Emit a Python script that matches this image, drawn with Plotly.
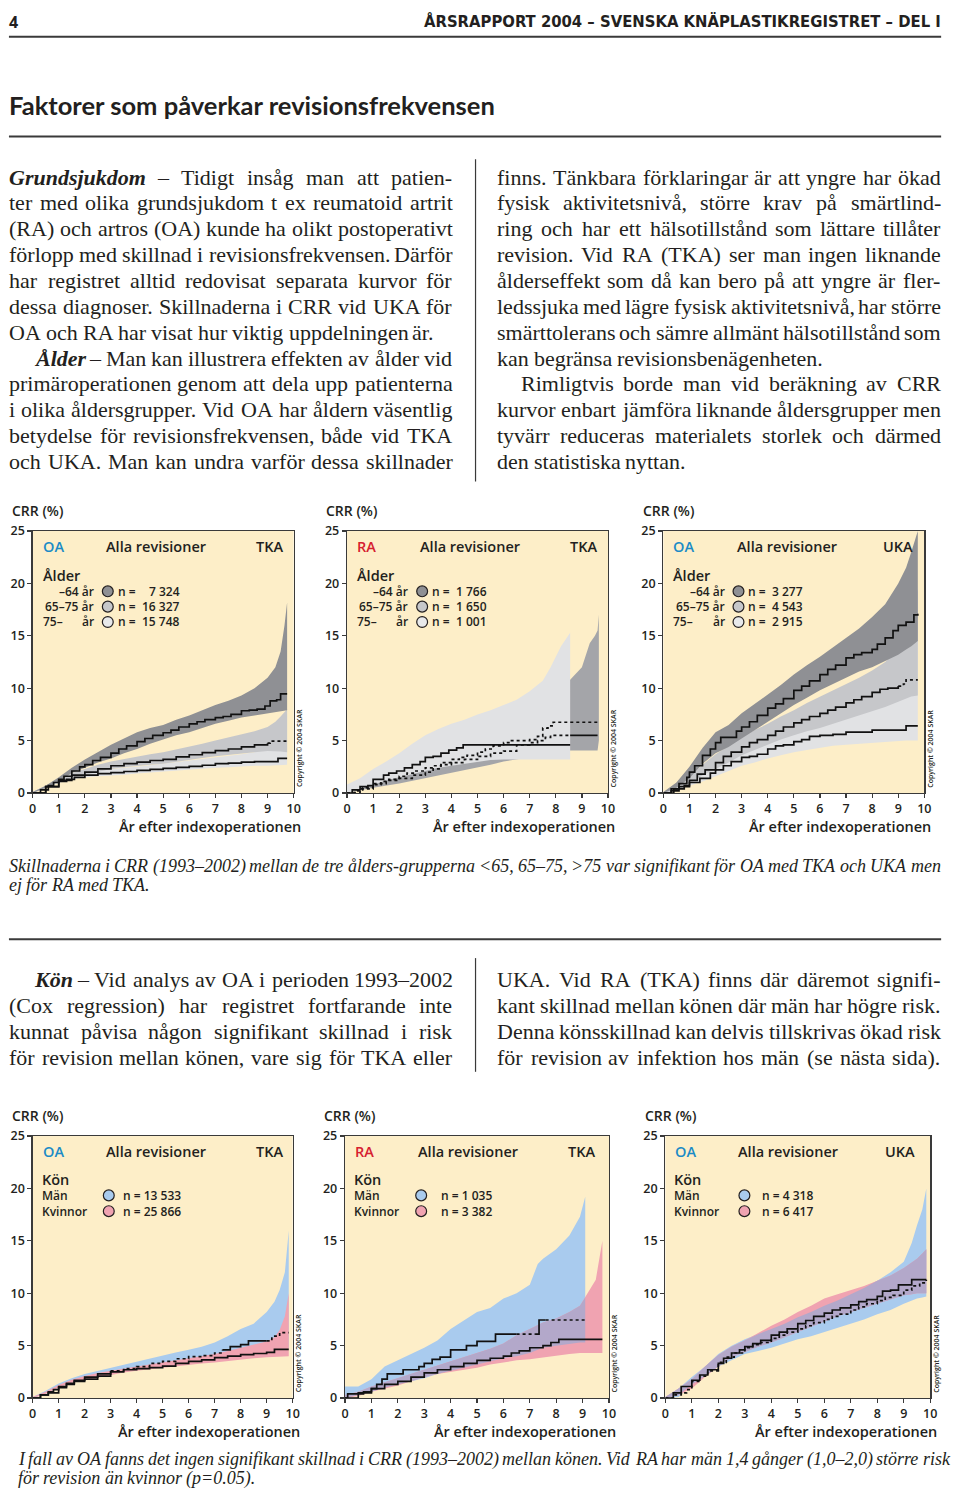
import plotly.graph_objects as go

W, H = 960, 1498
SANS = "Open Sans, Noto Sans, sans-serif"
SERIF = "Liberation Serif, Times New Roman, serif"
INK = "#231F20"
BEIGE = "#FDEEC8"
G_DARK, G_MID, G_LIGHT = "#8F9094", "#C6C7CA", "#E1E2E4"
BLUE, PINK, LAV = "#A9CBEE", "#F0A3B1", "#B3A8CA"
OA_COL, RA_COL = "#1B8BC6", "#D6202F"

# ---------------- data ----------------
# Chart 1: OA, TKA, by age
c1_a_t = [0,0.3,0.6,0.8,1.0,1.2,1.5,1.8,2.0,2.3,2.6,3.0,3.3,3.6,4.0,4.3,4.6,5.0,5.3,5.6,6.0,6.3,6.6,7.0,7.3,7.6,8.0,8.3,8.6,8.9,9.1,9.35,9.5,9.75]
c1_a_v = [0,0.3,0.7,1.0,1.3,1.6,2.1,2.5,2.7,3.1,3.4,3.8,4.2,4.5,4.9,5.2,5.5,5.75,6.0,6.3,6.6,6.8,7.0,7.2,7.3,7.5,7.85,7.9,8.0,8.3,8.8,8.9,9.45,9.45]
c1_a_f = ["s"] * len(c1_a_t)
c1_a_bt = [0,0.5,1,1.5,2,2.5,3,3.5,4,4.5,5,5.5,6,6.5,7,7.5,8,8.5,9,9.3,9.5,9.65,9.75]
c1_a_hi = [0.1,0.7,1.5,2.4,3.2,3.9,4.6,5.2,5.8,6.2,6.5,7.0,7.4,7.9,8.4,8.8,9.3,10.0,11.0,12.0,13.5,16.0,18.2]
c1_a_lo = [0,0.5,1.1,1.9,2.4,2.9,3.3,3.8,4.2,4.7,5.1,5.5,5.8,6.2,6.6,6.9,7.2,7.4,7.6,7.7,7.8,7.9,7.9]
c1_b_t = [0,0.5,1.0,1.5,2.0,2.5,3.0,3.5,4.0,4.5,5.0,5.5,6.0,6.5,7.0,7.5,8.0,8.5,9.0,9.1,9.75]
c1_b_v = [0,0.6,1.2,1.7,2.0,2.3,2.6,2.8,2.95,3.1,3.2,3.45,3.65,3.85,4.05,4.2,4.4,4.6,4.75,4.95,4.95]
c1_b_f = ["s"] * 18 + ["d", "d", "d"]
c1_b_bt = [0,0.5,1,1.5,2,2.5,3,3.5,4,4.5,5,5.5,6,6.5,7,7.5,8,8.5,9,9.3,9.5,9.75]
c1_b_hi = [0.1,0.7,1.3,1.9,2.3,2.7,3.0,3.25,3.45,3.7,3.9,4.15,4.4,4.7,5.0,5.3,5.6,5.9,6.3,6.8,7.3,8.0]
c1_b_lo = [0,0.5,1.05,1.45,1.75,2.05,2.3,2.45,2.6,2.7,2.8,3.0,3.2,3.35,3.5,3.65,3.8,3.9,4.0,4.0,3.95,3.9]
c1_c_t = [0,0.5,1.0,1.3,1.6,2.0,2.5,3.0,3.5,4.0,4.5,5.0,5.5,6.0,6.5,7.0,7.5,8.0,8.5,9.0,9.4,9.75]
c1_c_v = [0,0.6,1.1,1.3,1.5,1.7,1.85,1.95,2.05,2.15,2.25,2.35,2.45,2.55,2.65,2.8,2.85,2.95,3.0,3.0,3.3,3.3]
c1_c_f = ["s"] * len(c1_c_t)
c1_c_bt = [0,0.5,1,1.5,2,2.5,3,3.5,4,4.5,5,5.5,6,6.5,7,7.5,8,8.5,9,9.3,9.5,9.75]
c1_c_hi = [0.1,0.7,1.2,1.6,1.95,2.15,2.3,2.4,2.5,2.65,2.75,2.9,3.05,3.2,3.35,3.5,3.7,3.9,4.2,4.7,5.5,7.5]
c1_c_lo = [0,0.5,0.95,1.3,1.5,1.6,1.65,1.75,1.85,1.95,2.05,2.1,2.2,2.3,2.4,2.45,2.55,2.6,2.6,2.65,2.7,2.7]

# Chart 2: RA, TKA, by age
c2_a_bt = [0,1,2,3,4,5,5.5,6,7,8,8.55,9.0,9.3,9.5,9.6,9.65]
c2_a_hi = [0.5,2.0,3.5,5.0,6.2,7.2,7.7,8.2,9.2,10.2,10.8,12.0,14.3,15.0,15.5,17.0]
c2_a_lo = [0,0.5,0.9,1.4,1.9,2.4,2.7,3.0,3.4,3.9,4.05,4.05,4.05,4.05,4.05,5.0]
c2_a_t = [0,0.3,0.6,1.0,1.3,1.6,2.0,2.3,2.6,3.0,3.3,3.6,4.0,4.3,4.6,5.0,5.3,5.6,6.0,6.3,6.6,7.0,7.3,7.5,7.7,7.9,9.65]
c2_a_v = [0,0.2,0.5,0.8,1.1,1.3,1.6,1.9,2.1,2.4,2.6,2.9,3.2,3.4,3.6,3.9,4.2,4.5,4.8,5.0,5.0,5.1,5.4,6.2,6.4,6.75,6.75]
c2_a_f = ["d"] * len(c2_a_t)
c2_b_t = [0,0.5,1.0,1.5,2.0,2.5,3.0,3.3,3.6,4.0,4.5,5.0,5.5,6.0,6.5,7.0,7.3,7.6,7.8,8.55,9.6]
c2_b_v = [0,0.4,0.9,1.2,1.4,1.7,2.0,2.3,2.7,2.9,3.2,3.5,3.8,4.0,4.6,4.8,5.0,5.3,5.5,5.5,5.5]
c2_b_f = ["d"] * 19 + ["s", "s"]
c2_c_t = [0,0.2,0.5,0.8,1.0,1.2,1.4,1.6,1.9,2.2,2.5,2.8,3.0,3.3,3.6,3.9,4.2,4.45,8.55]
c2_c_v = [0,0.3,0.6,0.7,1.3,1.3,1.7,1.9,2.1,2.4,2.7,3.0,3.4,3.5,3.8,4.1,4.3,4.6,4.6]
c2_c_f = ["s"] * len(c2_c_t)
c2_c_bt = [0,0.5,1,1.5,2,2.5,3,3.5,4,4.5,5,5.5,6,6.5,7,7.5,7.8,8.2,8.55]
c2_c_hi = [0.8,1.4,2.3,3.0,3.8,4.7,5.5,6.1,6.6,7.0,7.5,7.9,8.4,8.9,9.7,10.7,12.0,14.0,15.3]
c2_c_lo = [0,0.4,0.8,1.2,1.5,1.8,2.1,2.4,2.6,2.8,3.0,3.15,3.2,3.2,3.2,3.2,3.2,3.2,3.2]

# Chart 3: OA, UKA, by age
c3_a_t = [0,0.3,0.6,0.9,1.0,1.2,1.5,1.8,2.0,2.2,2.5,2.8,3.0,3.3,3.6,4.0,4.3,4.6,5.0,5.3,5.6,6.0,6.3,6.6,7.0,7.3,7.6,8.0,8.2,8.5,8.8,9.0,9.3,9.6,9.75]
c3_a_v = [0,0.4,0.9,1.5,2.0,2.6,3.6,4.2,4.8,5.3,5.3,5.9,6.3,6.8,7.4,8.1,8.5,9.0,9.8,10.2,10.7,11.3,11.8,12.2,12.9,13.2,13.4,13.7,14.2,14.8,15.5,16.0,16.3,17.0,17.1]
c3_a_f = ["s"] * len(c3_a_t)
c3_bt = [0,0.5,1,1.5,2,2.5,3,3.5,4,4.5,5,5.5,6,6.5,7,7.5,8,8.5,9,9.3,9.5,9.75]
c3_a_hi = [0.1,1.0,2.5,4.3,5.8,6.5,7.6,8.5,9.4,10.3,11.3,12.2,13.0,13.9,14.8,15.7,16.8,18.0,20.0,21.5,23.0,25.0]
c3_a_lo = [0,0.5,1.4,2.8,3.8,4.4,5.2,6.0,6.8,7.6,8.4,9.1,9.8,10.4,11.0,11.6,12.0,12.6,13.2,13.7,14.0,14.5]
c3_b_t = [0,0.3,0.6,1.0,1.3,1.6,2.0,2.3,2.6,3.0,3.3,3.6,4.0,4.3,4.6,5.0,5.3,5.6,6.0,6.3,6.6,7.0,7.3,7.6,8.0,8.3,8.6,9.0,9.2,9.3,9.75]
c3_b_v = [0,0.2,0.6,1.2,1.8,2.2,2.9,3.5,3.9,4.4,4.8,5.1,5.5,5.9,6.3,6.7,7.0,7.3,7.6,7.9,8.2,8.6,8.9,9.2,9.6,9.9,10.0,10.2,10.4,10.8,10.8]
c3_b_f = ["s"] * 27 + ["d"] * 4
c3_b_hi = [0.1,0.6,1.6,2.7,3.7,4.5,5.3,6.0,6.6,7.3,7.9,8.6,9.2,9.8,10.4,11.0,11.7,12.5,13.8,15.5,17.0,19.5]
c3_b_lo = [0,0.3,0.9,1.7,2.3,2.9,3.6,4.1,4.6,5.1,5.5,5.9,6.2,6.6,7.0,7.4,7.8,8.2,8.7,9.0,9.2,9.3]
c3_c_t = [0,0.4,0.8,1.0,1.4,1.8,2.0,2.3,2.6,3.0,3.3,3.6,4.0,4.3,4.6,5.0,5.3,5.6,6.0,6.5,7.0,7.5,8.0,8.5,9.0,9.3,9.75]
c3_c_v = [0,0.4,0.7,1.0,1.4,1.9,2.2,2.6,3.0,3.4,3.5,3.7,4.2,4.5,4.6,4.9,5.1,5.4,5.5,5.6,5.8,5.8,6.0,6.0,6.0,6.4,6.4]
c3_c_f = ["s"] * len(c3_c_t)
c3_c_hi = [0.1,0.6,1.4,2.2,3.0,3.8,4.4,4.9,5.4,5.9,6.3,6.7,7.1,7.4,7.7,8.0,8.4,8.8,9.4,10.5,12.5,20.0]
c3_c_lo = [0,0.2,0.7,1.1,1.6,2.1,2.6,2.9,3.3,3.6,3.9,4.1,4.3,4.5,4.6,4.7,4.8,4.9,5.0,5.0,5.0,5.0]

# Chart 4: OA, TKA, by sex
c4_bt = [0,0.5,1,1.5,2,2.5,3,3.5,4,4.5,5,5.5,6,6.5,7,7.5,8,8.5,9,9.3,9.5,9.7,9.85]
c4_m_hi = [0.1,0.7,1.4,1.9,2.3,2.6,2.9,3.2,3.45,3.75,4.05,4.35,4.6,4.9,5.3,5.9,6.6,7.1,8.2,9.2,10.3,12.0,16.0]
c4_m_lo = [0,0.4,1.0,1.5,1.8,2.1,2.3,2.5,2.7,2.9,3.1,3.3,3.5,3.7,3.9,4.1,4.3,4.4,4.5,4.6,4.7,4.7,4.7]
c4_w_hi = [0.1,0.6,1.25,1.75,2.1,2.4,2.6,2.8,3.0,3.2,3.4,3.6,3.8,4.0,4.2,4.5,4.8,5.1,5.4,5.8,6.5,7.8,10.0]
c4_w_lo = [0,0.4,1.0,1.45,1.7,1.95,2.25,2.45,2.6,2.75,2.85,3.0,3.15,3.3,3.4,3.55,3.7,3.8,3.9,3.95,4.0,4.0,4.0]
c4_m_t = [0,0.3,0.6,0.8,1.0,1.3,1.6,2.0,2.5,3.0,3.5,4.0,4.5,5.0,5.5,6.0,6.5,7.0,7.3,7.6,8.0,8.3,9.0,9.2,9.5,9.85]
c4_m_v = [0,0.3,0.6,0.8,1.1,1.4,1.7,2.0,2.3,2.6,2.8,3.0,3.3,3.5,3.75,3.95,4.05,4.3,4.6,4.9,5.1,5.45,5.45,5.9,6.25,6.25]
c4_m_f = ["s"] * 9 + ["d"] * 9 + ["s"] * 4 + ["d"] * 4
c4_w_t = [0,0.3,0.6,1.0,1.3,1.6,2.0,2.5,3.0,3.5,4.0,4.5,5.0,5.5,6.0,6.5,7.0,7.5,8.0,8.5,9.0,9.3,9.85]
c4_w_v = [0,0.3,0.5,1.0,1.3,1.6,1.8,2.1,2.5,2.7,2.8,2.9,3.05,3.3,3.5,3.65,3.85,4.0,4.15,4.25,4.35,4.65,4.65]
c4_w_f = ["s"] * len(c4_w_t)

# Chart 5: RA, TKA, by sex
c5_bt = [0,0.5,1,1.5,2,2.5,3,3.5,4,4.5,5,5.5,6,6.5,7,7.3,7.5,8,8.5,8.9,9.1,9.5,9.75]
c5_m_hi = [1.1,1.1,1.8,3.0,3.6,4.2,4.8,5.5,6.6,7.4,8.2,8.6,9.5,10.0,10.8,12.8,13.3,14.2,15.5,17.3,19.2]
c5_m_lo = [0,0.3,0.6,1.0,1.3,1.6,1.9,2.3,2.6,2.9,3.2,3.5,3.8,4.0,4.3,4.6,4.8,5.0,5.2,5.3,5.3]
c5_w_hi = [0.3,0.6,1.1,1.5,1.9,2.3,2.7,3.1,3.5,3.9,4.3,4.7,5.2,6.0,6.6,7.0,7.2,7.6,8.2,8.8,9.6,11.3,15.0]
c5_w_lo = [0,0.2,0.6,0.9,1.2,1.6,2.0,2.3,2.5,2.7,2.9,3.2,3.4,3.6,3.7,3.8,3.9,4.1,4.2,4.3,4.3,4.3,4.3]
c5_m_t = [0,0.1,0.5,0.7,1.0,1.2,1.4,1.6,2.0,2.2,2.6,2.8,3.0,3.3,3.6,4.0,4.3,4.6,5.0,5.3,5.7,6.5,7.2,7.35,7.6,9.1]
c5_m_v = [0,0.4,0.4,0.6,0.9,1.3,1.8,2.3,2.3,2.7,2.7,3.0,3.3,3.7,3.9,4.6,4.6,5.0,5.4,5.4,6.1,6.1,6.1,7.45,7.45,7.45]
c5_m_f = ["s"] * 21 + ["d", "s", "s", "d", "d"]
c5_w_t = [0,0.5,1.0,1.5,2.0,2.5,3.0,3.5,4.0,4.5,5.0,5.5,6.0,6.3,6.6,7.0,7.5,7.8,8.1,9.75]
c5_w_v = [0,0.5,0.9,1.3,1.6,2.0,2.4,2.7,3.0,3.3,3.6,3.8,4.0,4.3,4.5,4.8,5.0,5.3,5.6,5.6]
c5_w_f = ["s"] * len(c5_w_t)

# Chart 6: OA, UKA, by sex
c6_bt = [0,0.5,1,1.5,2,2.5,3,3.5,4,4.5,5,5.5,6,6.5,7,7.5,8,8.5,9,9.3,9.5,9.7,9.85]
c6_m_hi = [0.1,0.9,2.0,3.0,4.2,5.0,5.6,6.1,6.6,7.1,7.7,8.2,8.8,9.3,9.9,10.5,11.2,12.0,13.0,14.8,16.5,18.0,20.0]
c6_m_lo = [0,0.1,1.3,2.1,3.0,3.6,4.2,4.5,4.8,5.2,5.6,5.9,6.3,6.7,7.1,7.5,8.0,8.4,9.0,9.3,9.5,9.6,9.7]
c6_w_hi = [0.1,0.9,1.8,3.0,4.1,4.9,5.5,6.2,6.9,7.5,8.2,8.8,9.5,9.9,10.3,10.7,11.2,11.7,12.4,12.9,13.3,13.8,14.2]
c6_w_lo = [0,0.3,0.9,2.0,3.0,3.9,4.4,4.9,5.3,5.8,6.3,6.8,7.3,7.8,8.2,8.6,9.0,9.4,9.8,9.9,10.0,10.0,10.0]
c6_w_t = [0,0.3,0.6,1.0,1.3,1.6,2.0,2.2,2.5,2.8,3.0,3.3,3.6,4.0,4.3,4.6,5.0,5.3,5.6,6.0,6.3,6.6,7.0,7.3,7.6,8.0,8.2,8.5,8.8,9.0,9.3,9.85]
c6_w_v = [0,0.5,1.1,1.7,2.2,2.7,3.3,3.8,4.3,4.6,4.9,5.2,5.5,6.0,6.3,6.6,7.1,7.4,7.8,8.1,8.4,8.6,8.9,9.2,9.4,9.7,10.2,10.3,10.8,10.8,11.3,11.3]
c6_w_f = ["s"] * len(c6_w_t)
c6_m_t = [0,0.3,0.6,0.8,1.0,1.3,1.6,2.0,2.3,2.6,3.0,3.3,3.6,4.0,4.3,4.6,5.0,5.3,5.6,6.0,6.3,6.6,7.0,7.3,7.6,8.0,8.3,8.6,9.0,9.3,9.6,9.85]
c6_m_v = [0,0.3,0.5,0.8,1.6,2.1,2.6,3.4,3.9,4.3,4.8,5.1,5.3,5.7,6.0,6.3,6.6,6.9,7.2,7.5,7.8,8.0,8.4,8.7,9.0,9.3,9.6,9.8,10.3,10.7,11.0,11.3]
c6_m_f = ["d"] * len(c6_m_t)

# Legend texts / counts
age_rows = ["\u201364 år", "65\u201375 år", "75\u2013"]
age_n = [["7 324", "16 327", "15 748"], ["1 766", "1 650", "1 001"], ["3 277", "4 543", "2 915"]]
sex_rows = ["Män", "Kvinnor"]
sex_n = [["13 533", "25 866"], ["1 035", "3 382"], ["4 318", "6 417"]]
x_ticks = list(range(0, 11))
y_ticks = [0, 5, 10, 15, 20, 25]

# Body text
HEADER_RIGHT = "ÅRSRAPPORT 2004 \u2013 SVENSKA KNÄPLASTIKREGISTRET \u2013 DEL I"
TITLE = "Faktorer som påverkar revisionsfrekvensen"
LEFT_TOP = [
    ("*Grundsjukdom* \u2013 Tidigt insåg man att patien-", True, 0),
    ("ter med olika grundsjukdom t ex reumatoid artrit", True, 0),
    ("(RA) och artros (OA) kunde ha olikt postoperativt", True, 0),
    ("förlopp med skillnad i revisionsfrekvensen. Därför", True, 0),
    ("har registret alltid redovisat separata kurvor för", True, 0),
    ("dessa diagnoser. Skillnaderna i CRR vid UKA för", True, 0),
    ("OA och RA har visat hur viktig uppdelningen är.", False, 0),
    ("*Ålder* \u2013 Man kan illustrera effekten av ålder vid", True, 25),
    ("primäroperationen genom att dela upp patienterna", True, 0),
    ("i olika åldersgrupper. Vid OA har åldern väsentlig", True, 0),
    ("betydelse för revisionsfrekvensen, både vid TKA", True, 0),
    ("och UKA. Man kan undra varför dessa skillnader", True, 0),
]
RIGHT_TOP = [
    ("finns. Tänkbara förklaringar är att yngre har ökad", True, 0),
    ("fysisk aktivitetsnivå, större krav på smärtlind-", True, 0),
    ("ring och har ett hälsotillstånd som lättare tillåter", True, 0),
    ("revision. Vid RA (TKA) ser man ingen liknande", True, 0),
    ("ålderseffekt som då kan bero på att yngre är fler-", True, 0),
    ("ledssjuka med lägre fysisk aktivitetsnivå, har större", True, 0),
    ("smärttolerans och sämre allmänt hälsotillstånd som", True, 0),
    ("kan begränsa revisionsbenägenheten.", False, 0),
    ("Rimligtvis borde man vid beräkning av CRR", True, 24),
    ("kurvor enbart jämföra liknande åldersgrupper men", True, 0),
    ("tyvärr reduceras materialets storlek och därmed", True, 0),
    ("den statistiska nyttan.", False, 0),
]
LEFT_BOT = [
    ("*Kön* \u2013 Vid analys av OA i perioden 1993\u20132002", True, 25),
    ("(Cox regression) har registret fortfarande inte", True, 0),
    ("kunnat påvisa någon signifikant skillnad i risk", True, 0),
    ("för revision mellan könen, vare sig för TKA eller", True, 0),
]
RIGHT_BOT = [
    ("UKA. Vid RA (TKA) finns där däremot signifi-", True, 0),
    ("kant skillnad mellan könen där män har högre risk.", True, 0),
    ("Denna könsskillnad kan delvis tillskrivas ökad risk", True, 0),
    ("för revision av infektion hos män (se nästa sida).", True, 0),
]
CAP1 = ["Skillnaderna i CRR (1993\u20132002) mellan de tre ålders-grupperna <65, 65\u201375, >75 var signifikant för OA med TKA och UKA men",
        "ej för RA med TKA."]
CAP2 = ["I fall av OA fanns det ingen signifikant skillnad i CRR (1993\u20132002) mellan könen. Vid RA har män 1,4 gånger (1,0\u20132,0) större risk",
        "för revision än kvinnor (p=0.05)."]

# ---------------- helpers ----------------
def px(x):
    return x / W

def py(y):
    return 1 - y / H

annotations = []
shapes = []

def add_text(s, x, y, size, family=SANS, weight=None, style=None, color=INK,
             xanchor="left", yanchor="middle", angle=0):
    font = dict(family=family, size=size, color=color)
    if weight:
        font["weight"] = weight
    if style:
        font["style"] = style
    annotations.append(dict(text=s, x=px(x), y=py(y), xref="paper", yref="paper",
                            xanchor=xanchor, yanchor=yanchor, showarrow=False,
                            font=font, borderpad=0, borderwidth=0, textangle=angle))

def hline(x0, x1, y, w=2, color="#3A3A3A"):
    shapes.append(dict(type="line", xref="paper", yref="paper", x0=px(x0), x1=px(x1),
                       y0=py(y), y1=py(y), line=dict(color=color, width=w)))

def vline(x, y0, y1, w=1.2, color="#3A3A3A"):
    shapes.append(dict(type="line", xref="paper", yref="paper", x0=px(x), x1=px(x),
                       y0=py(y0), y1=py(y1), line=dict(color=color, width=w)))

def circle(cx, cy, r, fill):
    shapes.append(dict(type="circle", xref="paper", yref="paper", x0=px(cx - r), x1=px(cx + r),
                       y0=py(cy + r), y1=py(cy - r), fillcolor=fill, line=dict(color=INK, width=1.2)))

# Times (Liberation Serif) advance widths, 1/1000 em
_R = dict(zip("abcdefghijklmnopqrstuvwxyz",
              [444,500,444,500,444,333,500,500,278,278,500,278,778,500,500,500,500,333,389,278,500,500,722,500,500,444]))
_R.update(dict(zip("ABCDEFGHIJKLMNOPQRSTUVWXYZ",
                   [722,667,667,722,611,556,722,722,333,389,722,611,889,722,722,556,722,667,556,611,722,722,944,722,722,611])))
_I = dict(zip("abcdefghijklmnopqrstuvwxyz",
              [500,500,444,500,444,278,500,500,278,278,444,278,722,500,500,500,500,389,389,278,500,444,667,444,444,389]))
_I.update(dict(zip("ABCDEFGHIJKLMNOPQRSTUVWXYZ",
                   [611,611,667,722,611,611,722,722,333,444,667,556,833,667,722,611,722,611,500,556,722,611,833,611,556,556])))
_BI = dict(_I)
_BI.update({"h": 556, "n": 556, "u": 556, "f": 333, "k": 500, "m": 778, "x": 500, "A": 667, "K": 667})
for _t, lt in ((_R, 564), (_I, 675), (_BI, 570)):
    _t.update({" ": 250, ".": 250, ",": 250, "-": 333, "\u2013": 500, "(": 333, ")": 333,
               "<": lt, ">": lt, "=": lt})
    for d in "0123456789":
        _t[d] = 500
_BASE = {"å": "a", "ä": "a", "ö": "o", "Å": "A", "Ä": "A", "Ö": "O", "é": "e"}

def tw(s, table):
    return sum(table.get(_BASE.get(c, c), 500) for c in s) / 1000.0

def esc(s):
    return s.replace("<", "&lt;").replace(">", "&gt;")

def set_line(line, x0, x1, y, size, justify=True, italic=False, indent=0, min_gap=0.18):
    toks = line.split(" ")
    items = []
    for tk in toks:
        if tk.startswith("*") and tk.endswith("*"):
            items.append((tk.strip("*"), "bi"))
        else:
            items.append((tk, "i" if italic else "r"))
    tabs = {"r": _R, "i": _I, "bi": _BI}
    unit = [tw(t, tabs[s]) for t, s in items]
    n = len(items)
    avail = x1 - x0 - indent
    if justify and n > 1:
        gap = (avail - sum(unit) * size) / (n - 1)
        if gap < min_gap * size:
            size = avail / (sum(unit) + min_gap * (n - 1))
            gap = min_gap * size
    else:
        gap = 0.25 * size
    x = x0 + indent
    for (t, s), u in zip(items, unit):
        if s == "bi":
            add_text(esc(t), x, y, size, family=SERIF, weight="bold", style="italic")
        elif s == "i":
            add_text(esc(t), x, y, size, family=SERIF, style="italic")
        else:
            add_text(esc(t), x, y, size, family=SERIF)
        x += u * size + gap
    return size

# ---------------- figure ----------------
fig = go.Figure()

charts = [
    dict(L=29, R=293, T=528, B=793),
    dict(L=347, R=611, T=528, B=793),
    dict(L=667, R=931, T=528, B=793),
    dict(L=29, R=292, T=1140, B=1405),
    dict(L=345, R=612, T=1140, B=1405),
    dict(L=669, R=937, T=1140, B=1405),
]

def ax(i):
    return ("x" if i == 1 else f"x{i}"), ("y" if i == 1 else f"y{i}")

def band(i, t, lo, hi, color):
    xa, ya = ax(i)
    fig.add_trace(go.Scatter(x=t, y=lo, mode="lines", line=dict(width=0, color=color),
                             xaxis=xa, yaxis=ya, showlegend=False, hoverinfo="skip"))
    fig.add_trace(go.Scatter(x=t, y=hi, mode="lines", line=dict(width=0, color=color),
                             fill="tonexty", fillcolor=color,
                             xaxis=xa, yaxis=ya, showlegend=False, hoverinfo="skip"))

def step(i, t, v, flags):
    xa, ya = ax(i)
    start = 0
    for k in range(1, len(t)):
        last = (k == len(t) - 1)
        if last or flags[k] != flags[start]:
            seg_t = t[start:k + 1]
            seg_v = v[start:k + 1]
            dash = "dot" if flags[start] == "d" else "solid"
            fig.add_trace(go.Scatter(x=seg_t, y=seg_v, mode="lines", line_shape="hv",
                                     line=dict(color="#111111", width=1.7, dash=dash),
                                     xaxis=xa, yaxis=ya, showlegend=False, hoverinfo="skip"))
            start = k

def overlap(i, t, alo, ahi, blo, bhi, color):
    m = min(len(alo), len(blo))
    lo = [max(alo[k], blo[k]) for k in range(m)]
    hi = [max(min(ahi[k], bhi[k]), lo[k]) for k in range(m)]
    band(i, t[:m], lo, hi, color)

# Chart 1
band(1, c1_c_bt, c1_c_lo, c1_c_hi, G_LIGHT)
band(1, c1_b_bt, c1_b_lo, c1_b_hi, G_MID)
band(1, c1_a_bt, c1_a_lo, c1_a_hi, G_DARK)
step(1, c1_c_t, c1_c_v, c1_c_f)
step(1, c1_b_t, c1_b_v, c1_b_f)
step(1, c1_a_t, c1_a_v, c1_a_f)
# Chart 2
band(2, c2_a_bt, c2_a_lo, c2_a_hi, "#A4A5A9")
band(2, c2_c_bt, c2_c_lo, c2_c_hi, G_LIGHT)
step(2, c2_a_t, c2_a_v, c2_a_f)
step(2, c2_b_t, c2_b_v, c2_b_f)
step(2, c2_c_t, c2_c_v, c2_c_f)
# Chart 3
band(3, c3_bt, c3_c_lo, c3_c_hi, G_LIGHT)
band(3, c3_bt, c3_b_lo, c3_b_hi, G_MID)
band(3, c3_bt, c3_a_lo, c3_a_hi, G_DARK)
step(3, c3_c_t, c3_c_v, c3_c_f)
step(3, c3_b_t, c3_b_v, c3_b_f)
step(3, c3_a_t, c3_a_v, c3_a_f)
# Chart 4
band(4, c4_bt, c4_m_lo, c4_m_hi, BLUE)
band(4, c4_bt, c4_w_lo, c4_w_hi, PINK)
step(4, c4_w_t, c4_w_v, c4_w_f)
step(4, c4_m_t, c4_m_v, c4_m_f)
# Chart 5
band(5, c5_bt[:len(c5_m_hi)], c5_m_lo, c5_m_hi, BLUE)
band(5, c5_bt, c5_w_lo, c5_w_hi, PINK)
overlap(5, c5_bt, c5_m_lo, c5_m_hi, c5_w_lo, c5_w_hi, LAV)
step(5, c5_w_t, c5_w_v, c5_w_f)
step(5, c5_m_t, c5_m_v, c5_m_f)
# Chart 6
band(6, c6_bt, c6_m_lo, c6_m_hi, BLUE)
band(6, c6_bt, c6_w_lo, c6_w_hi, PINK)
overlap(6, c6_bt, c6_m_lo, c6_m_hi, c6_w_lo, c6_w_hi, LAV)
step(6, c6_w_t, c6_w_v, c6_w_f)
step(6, c6_m_t, c6_m_v, c6_m_f)

layout = dict(width=W, height=H, margin=dict(l=0, r=0, t=0, b=0),
              paper_bgcolor="white", plot_bgcolor=BEIGE, showlegend=False)
tickfont = dict(family=SANS, size=12.5, color=INK, weight=600)
for i, c in enumerate(charts, start=1):
    xk = "xaxis" if i == 1 else f"xaxis{i}"
    yk = "yaxis" if i == 1 else f"yaxis{i}"
    layout[xk] = dict(domain=[px(c["L"]), px(c["R"])], anchor=ax(i)[1], range=[0, 10],
                      tickvals=x_ticks, ticks="outside", ticklen=4, tickwidth=1.2,
                      tickcolor="#3A3A3A", showline=True, mirror=True, linecolor="#3A3A3A",
                      linewidth=1.3, showgrid=False, zeroline=False, tickfont=tickfont, fixedrange=True)
    layout[yk] = dict(domain=[py(c["B"]), py(c["T"])], anchor=ax(i)[0], range=[0, 25],
                      tickvals=y_ticks, ticks="outside", ticklen=4, tickwidth=1.2,
                      tickcolor="#3A3A3A", showline=True, mirror=True, linecolor="#3A3A3A",
                      linewidth=1.3, showgrid=False, zeroline=False, tickfont=tickfont, fixedrange=True)

# chart texts
diag = [("OA", OA_COL, "TKA"), ("RA", RA_COL, "TKA"), ("OA", OA_COL, "UKA"),
        ("OA", OA_COL, "TKA"), ("RA", RA_COL, "TKA"), ("OA", OA_COL, "UKA")]
age_fill = [G_DARK, G_MID, "#E8E9EB"]
n_right = [149, 142, 141]
sex_circ = [77, 77, 80]
sex_ntx = [91, 97, 98]
for i, c in enumerate(charts):
    L, R, T, B = c["L"], c["R"], c["T"], c["B"]
    d, dcol, kind = diag[i]
    add_text("CRR (%)", L - 21, T - 21, 14, weight=600)
    add_text(d, L + 10, T + 16, 14.5, weight=600, color=dcol)
    add_text("Alla revisioner", L + 74, T + 16, 14.5, weight=600)
    add_text(kind, L + 253, T + 16, 14.5, weight=600, xanchor="right")
    add_text("År efter indexoperationen", R + 7, B + 34, 14.5, weight=600, xanchor="right")
    add_text("Copyright \u00a9 2004 SKAR", R + 6, B - 45, 7, weight=600, xanchor="center", angle=-90)
    if i < 3:
        add_text("Ålder", L + 10, T + 45, 14.5, weight=600)
        for r in range(3):
            yy = T + 61 + r * 15.5
            if r < 2:
                add_text(age_rows[r], L + 62, yy, 12, weight=600, xanchor="right")
            else:
                add_text(age_rows[r], L + 10, yy, 12, weight=600)
                add_text("år", L + 62, yy, 12, weight=600, xanchor="right")
            circle(L + 76, yy, 5.5, age_fill[r])
            add_text("n =", L + 86, yy, 12, weight=600)
            add_text(age_n[i][r], L + n_right[i], yy, 12, weight=600, xanchor="right")
    else:
        j = i - 3
        add_text("Kön", L + 9, T + 44, 14.5, weight=600)
        for r in range(2):
            yy = T + 60 + r * 16
            add_text(sex_rows[r], L + 9, yy, 12, weight=600)
            circle(L + sex_circ[j], yy, 5.5, [BLUE, PINK][r])
            add_text("n = " + sex_n[j][r], L + sex_ntx[j], yy, 12, weight=600)

# page furniture
add_text("4", 5, 13, 16, weight=700)
add_text(HEADER_RIGHT, 948, 13, 16.5, weight=700, xanchor="right",
         family="Liberation Sans Narrow, DejaVu Sans Condensed, Open Sans, sans-serif")
hline(5, 948, 28, 2)
add_text(TITLE, 5, 97, 25.5, weight=700, family="Lato, Open Sans, sans-serif")
hline(5, 948, 129, 2)
hline(5, 948, 941, 2)
vline(477, 152, 478)
vline(477, 960, 1075)

BODY = 22
for k, (s, j, ind) in enumerate(LEFT_TOP):
    set_line(s, 5, 453, 170 + k * 26.15, BODY, justify=j, indent=ind)
for k, (s, j, ind) in enumerate(RIGHT_TOP):
    set_line(s, 499, 947, 170 + k * 26.15, BODY, justify=j, indent=ind)
for k, (s, j, ind) in enumerate(LEFT_BOT):
    set_line(s, 5, 453, 982 + k * 26.15, BODY, justify=j, indent=ind)
for k, (s, j, ind) in enumerate(RIGHT_BOT):
    set_line(s, 499, 947, 982 + k * 26.15, BODY, justify=j, indent=ind)

cs = set_line(CAP1[0], 5, 947, 867, 18, justify=True, italic=True, min_gap=0.2)
set_line(CAP1[1], 5, 947, 886, cs, justify=False, italic=True)
cs2 = set_line(CAP2[0], 14, 957, 1467, 18, justify=True, italic=True, min_gap=0.2)
set_line(CAP2[1], 14, 957, 1486, cs2, justify=False, italic=True)

layout["annotations"] = annotations
layout["shapes"] = shapes
fig.update_layout(**layout)
fig.write_html("out.html", config={"displayModeBar": False, "staticPlot": True},
               post_script="document.body.style.margin='0';document.body.style.overflow='hidden';")
